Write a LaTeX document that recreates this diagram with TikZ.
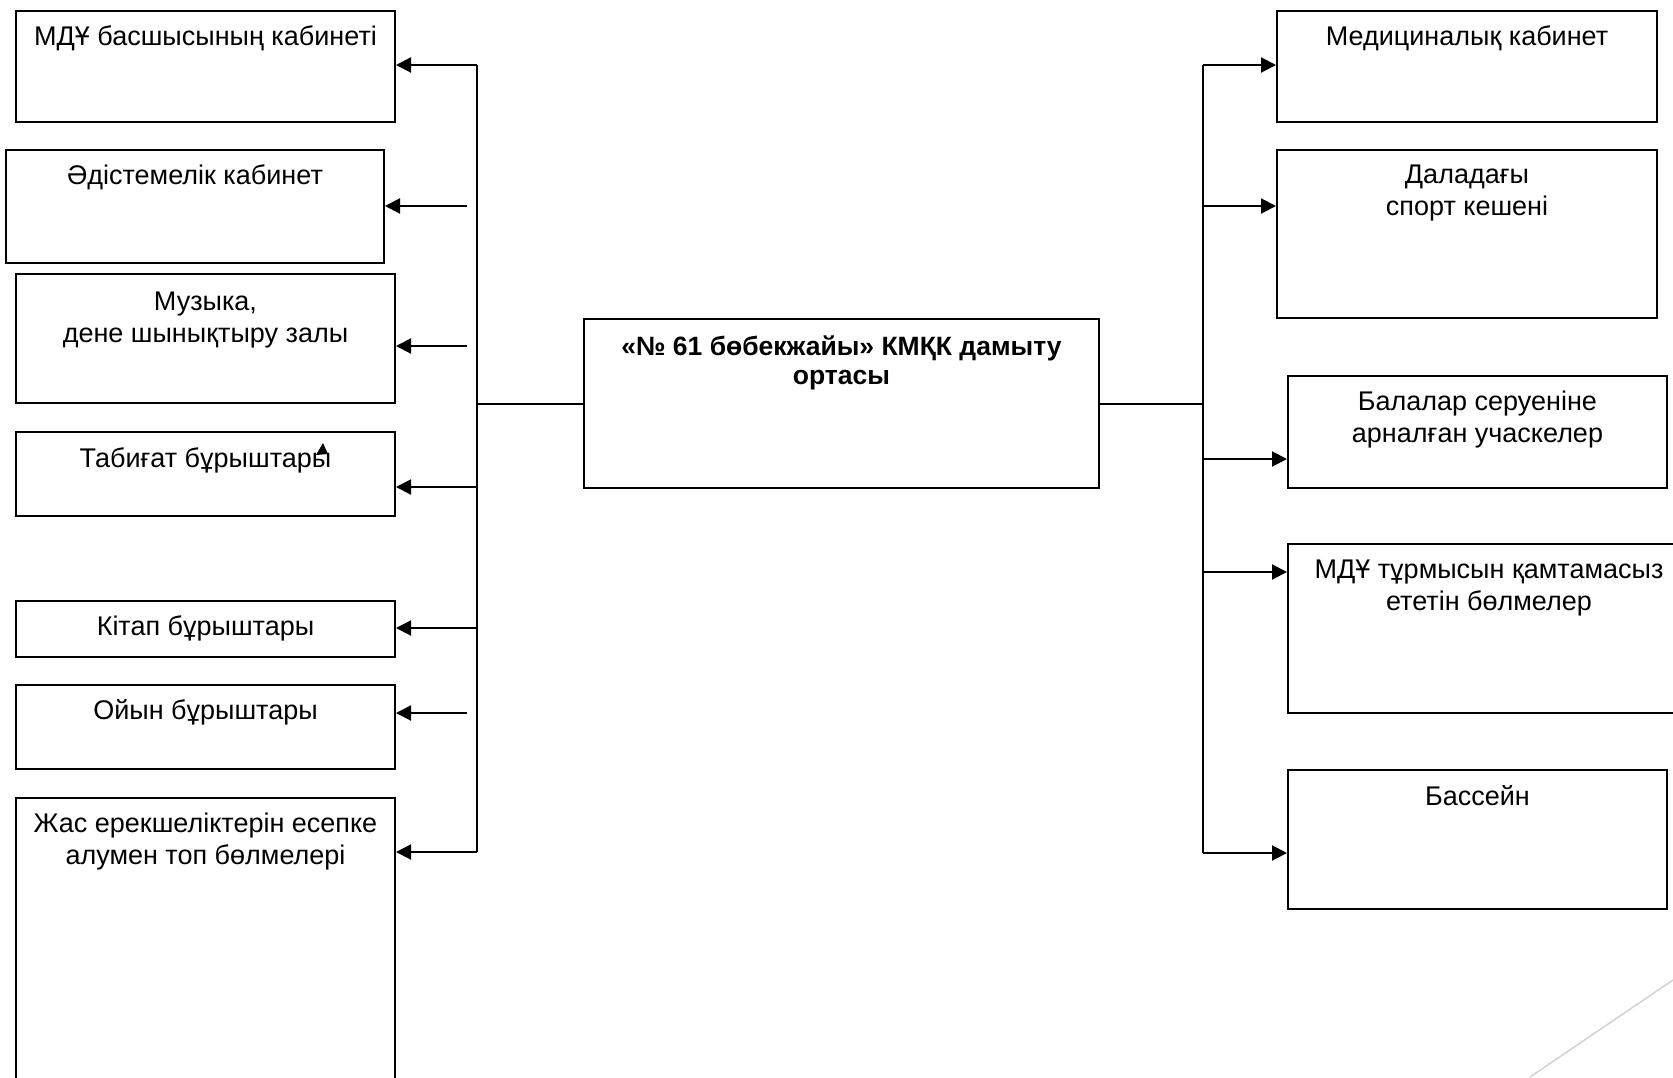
\documentclass[tikz,border=0pt]{standalone}
\usepackage{fontspec}
\setmainfont{Liberation Sans}
\usetikzlibrary{arrows.meta, positioning, calc}

\begin{document}
\begin{tikzpicture}[
    x=1pt, y=-1pt,
    room/.style={rectangle, draw, line width=2pt, anchor=north west, inner sep=0pt},
    roomtext/.style={font=\fontsize{27}{32}\selectfont, align=center, inner sep=0pt},
    arrow/.style={-{Triangle[length=15pt, width=15pt]}, line width=2pt},
    link/.style={line width=2pt}
]
    \useasboundingbox (0,0) rectangle (1673,1077);
    \clip (0,0) rectangle (1673,1077);

    % centre
    \node[room, minimum width=515pt, minimum height=169pt] (centre) at (583,318) {};
    \node[roomtext, font=\fontsize{26.5}{29}\selectfont\bfseries, below=18pt of centre.north] (centret) {«№ 61 бөбекжайы» КМҚК дамыту\\ортасы};

    % left column
    \node[room, minimum width=379pt, minimum height=111pt] (lb1) at (15,10) {};
    \node[roomtext, below=15pt of lb1.north] (lb1t) {МДҰ басшысының кабинеті};
    \node[room, minimum width=378pt, minimum height=113pt] (lb2) at (5,149) {};
    \node[roomtext, below=15pt of lb2.north] (lb2t) {Әдістемелік кабинет};
    \node[room, minimum width=379pt, minimum height=129pt] (lb3) at (15,273) {};
    \node[roomtext, below=19pt of lb3.north] (lb3t) {Музыка,\\дене шынықтыру залы};
    \node[room, minimum width=379pt, minimum height=84pt] (lb4) at (15,431) {};
    \node[roomtext, below=16pt of lb4.north] (lb4t) {Табиғат бұрыштары};
    \node[room, minimum width=379pt, minimum height=56pt] (lb5) at (15,600) {};
    \node[roomtext, below=15pt of lb5.north] (lb5t) {Кітап бұрыштары};
    \node[room, minimum width=379pt, minimum height=84pt] (lb6) at (15,684) {};
    \node[roomtext, below=15pt of lb6.north] (lb6t) {Ойын бұрыштары};
    \node[room, minimum width=379pt, minimum height=320pt] (lb7) at (15,797) {};
    \node[roomtext, below=16pt of lb7.north] (lb7t) {Жас ерекшеліктерін есепке\\алумен топ бөлмелері};

    % right column
    \node[room, minimum width=380pt, minimum height=111pt] (rb1) at (1276,10) {};
    \node[roomtext, below=15pt of rb1.north] (rb1t) {Медициналық кабинет};
    \node[room, minimum width=380pt, minimum height=168pt] (rb2) at (1276,149) {};
    \node[roomtext, below=16pt of rb2.north] (rb2t) {Даладағы\\спорт кешені};
    \node[room, minimum width=379pt, minimum height=112pt] (rb3) at (1287,375) {};
    \node[roomtext, below=16pt of rb3.north] (rb3t) {Балалар серуеніне\\арналған учаскелер};
    \node[room, minimum width=402pt, minimum height=169pt] (rb4) at (1287,543) {};
    \node[roomtext, below=17pt of rb4.north] (rb4t) {МДҰ тұрмысын қамтамасыз\\ететін бөлмелер};
    \node[room, minimum width=379pt, minimum height=139pt] (rb5) at (1287,769) {};
    \node[roomtext, below=16pt of rb5.north] (rb5t) {Бассейн};

    % buses
    \coordinate (ltop) at (477,65);
    \coordinate (lbot) at (477,852);
    \coordinate (rtop) at (1203,65);
    \coordinate (rbot) at (1203,853);
    \draw[link] (ltop) -- (lbot);
    \draw[link] (rtop) -- (rbot);
    \draw[link] (centre.west) -- (centre.west -| ltop);
    \draw[link] (centre.east) -- (centre.east -| rtop);

    % left arrows
    \draw[arrow] (ltop) -- (ltop -| lb1.east);
    \draw[arrow] (467,206) coordinate (l2) -- (l2 -| lb2.east);
    \draw[arrow] (467,346) coordinate (l3) -- (l3 -| lb3.east);
    \draw[arrow] (477,487) coordinate (l4) -- (l4 -| lb4.east);
    \draw[arrow] (477,628) coordinate (l5) -- (l5 -| lb5.east);
    \draw[arrow] (467,713) coordinate (l6) -- (l6 -| lb6.east);
    \draw[arrow] (lbot) -- (lbot -| lb7.east);

    % right arrows
    \draw[arrow] (rtop) -- (rtop -| rb1.west);
    \draw[arrow] (1203,206) coordinate (r2) -- (r2 -| rb2.west);
    \draw[arrow] (1203,459) coordinate (r3) -- (r3 -| rb3.west);
    \draw[arrow] (1203,572) coordinate (r4) -- (r4 -| rb4.west);
    \draw[arrow] (rbot) -- (rbot -| rb5.west);

    % stray tip and corner line
    \fill (316,455) -- (323,443) -- (328,454) -- cycle;
    \draw[gray!35, line width=1.5pt] (1530,1077) -- (1673,980);
\end{tikzpicture}
\end{document}
